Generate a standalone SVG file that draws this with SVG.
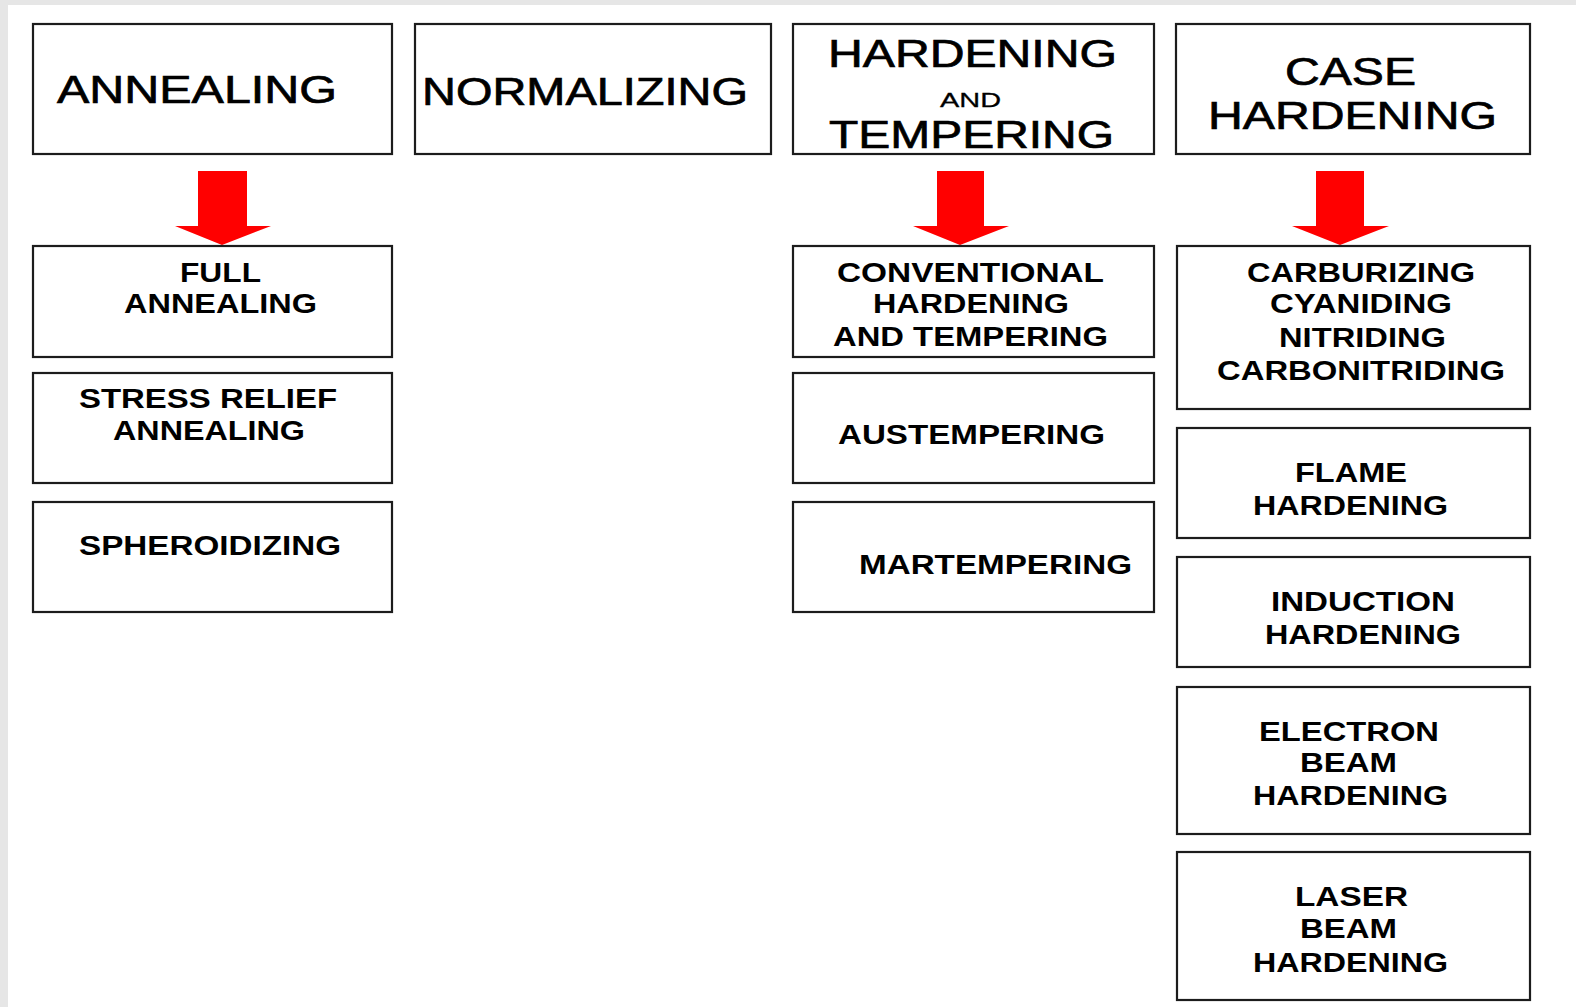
<svg xmlns="http://www.w3.org/2000/svg" width="1576" height="1007" viewBox="0 0 1576 1007">
<style>
.box{fill:#ffffff;stroke:#1c1c1c;stroke-width:2.2}
.t{font-family:"Liberation Sans",Arial,sans-serif;fill:#000;stroke:#000;stroke-width:0.7;font-size:39px;font-weight:normal}
.s{font-family:"Liberation Sans",Arial,sans-serif;fill:#000;font-size:27px;font-weight:bold}
.a{font-family:"Liberation Sans",Arial,sans-serif;fill:#000;stroke:#000;stroke-width:0.3;font-size:21px}
.arrow{fill:#ff0000}
</style>
<rect x="0" y="0" width="1576" height="1007" fill="#e6e6e6"/>
<rect x="8" y="5" width="1568" height="1002" fill="#ffffff"/>

<g id="connectors">
<path class="arrow" d="M198,171 H247 V226 H271 L222,245 L175,226 H198 Z"/>
<path class="arrow" d="M937,171 H984 V226 H1009 L960,245 L913,226 H937 Z"/>
<path class="arrow" d="M1316,171 H1364 V226 H1389 L1340,245 L1292,226 H1316 Z"/>
</g>

<g id="annealing">
<rect class="box" x="33" y="24" width="359" height="130"/>
<text class="t" x="57" y="103" textLength="280" lengthAdjust="spacingAndGlyphs">ANNEALING</text>
</g>
<g id="normalizing">
<rect class="box" x="415" y="24" width="356" height="130"/>
<text class="t" x="422" y="105" textLength="326" lengthAdjust="spacingAndGlyphs">NORMALIZING</text>
</g>
<g id="hardening-tempering">
<rect class="box" x="793" y="24" width="361" height="130"/>
<text class="t" x="828" y="67" textLength="289" lengthAdjust="spacingAndGlyphs">HARDENING</text>
<text class="a" x="940" y="107" textLength="61" lengthAdjust="spacingAndGlyphs">AND</text>
<text class="t" x="829" y="148" textLength="285" lengthAdjust="spacingAndGlyphs">TEMPERING</text>
</g>
<g id="case-hardening">
<rect class="box" x="1176" y="24" width="354" height="130"/>
<text class="t" x="1285" y="85" textLength="131" lengthAdjust="spacingAndGlyphs">CASE</text>
<text class="t" x="1208" y="129" textLength="289" lengthAdjust="spacingAndGlyphs">HARDENING</text>
</g>

<g id="full-annealing">
<rect class="box" x="33" y="246" width="359" height="111"/>
<text class="s" x="180" y="282" textLength="81" lengthAdjust="spacingAndGlyphs">FULL</text>
<text class="s" x="124" y="313" textLength="193" lengthAdjust="spacingAndGlyphs">ANNEALING</text>
</g>
<g id="stress-relief-annealing">
<rect class="box" x="33" y="373" width="359" height="110"/>
<text class="s" x="79" y="408" textLength="258" lengthAdjust="spacingAndGlyphs">STRESS RELIEF</text>
<text class="s" x="113" y="440" textLength="192" lengthAdjust="spacingAndGlyphs">ANNEALING</text>
</g>
<g id="spheroidizing">
<rect class="box" x="33" y="502" width="359" height="110"/>
<text class="s" x="79" y="555" textLength="262" lengthAdjust="spacingAndGlyphs">SPHEROIDIZING</text>
</g>

<g id="conventional">
<rect class="box" x="793" y="246" width="361" height="111"/>
<text class="s" x="837" y="282" textLength="267" lengthAdjust="spacingAndGlyphs">CONVENTIONAL</text>
<text class="s" x="873" y="313" textLength="196" lengthAdjust="spacingAndGlyphs">HARDENING</text>
<text class="s" x="833" y="346" textLength="275" lengthAdjust="spacingAndGlyphs">AND TEMPERING</text>
</g>
<g id="austempering">
<rect class="box" x="793" y="373" width="361" height="110"/>
<text class="s" x="838" y="444" textLength="267" lengthAdjust="spacingAndGlyphs">AUSTEMPERING</text>
</g>
<g id="martempering">
<rect class="box" x="793" y="502" width="361" height="110"/>
<text class="s" x="859" y="574" textLength="273" lengthAdjust="spacingAndGlyphs">MARTEMPERING</text>
</g>

<g id="carburizing">
<rect class="box" x="1177" y="246" width="353" height="163"/>
<text class="s" x="1247" y="282" textLength="228" lengthAdjust="spacingAndGlyphs">CARBURIZING</text>
<text class="s" x="1270" y="313" textLength="182" lengthAdjust="spacingAndGlyphs">CYANIDING</text>
<text class="s" x="1279" y="347" textLength="167" lengthAdjust="spacingAndGlyphs">NITRIDING</text>
<text class="s" x="1217" y="380" textLength="288" lengthAdjust="spacingAndGlyphs">CARBONITRIDING</text>
</g>
<g id="flame-hardening">
<rect class="box" x="1177" y="428" width="353" height="110"/>
<text class="s" x="1295" y="482" textLength="112" lengthAdjust="spacingAndGlyphs">FLAME</text>
<text class="s" x="1253" y="515" textLength="195" lengthAdjust="spacingAndGlyphs">HARDENING</text>
</g>
<g id="induction-hardening">
<rect class="box" x="1177" y="557" width="353" height="110"/>
<text class="s" x="1271" y="611" textLength="184" lengthAdjust="spacingAndGlyphs">INDUCTION</text>
<text class="s" x="1265" y="644" textLength="196" lengthAdjust="spacingAndGlyphs">HARDENING</text>
</g>
<g id="electron-beam-hardening">
<rect class="box" x="1177" y="687" width="353" height="147"/>
<text class="s" x="1259" y="741" textLength="180" lengthAdjust="spacingAndGlyphs">ELECTRON</text>
<text class="s" x="1300" y="772" textLength="97" lengthAdjust="spacingAndGlyphs">BEAM</text>
<text class="s" x="1253" y="805" textLength="195" lengthAdjust="spacingAndGlyphs">HARDENING</text>
</g>
<g id="laser-beam-hardening">
<rect class="box" x="1177" y="852" width="353" height="148"/>
<text class="s" x="1295" y="906" textLength="113" lengthAdjust="spacingAndGlyphs">LASER</text>
<text class="s" x="1300" y="938" textLength="97" lengthAdjust="spacingAndGlyphs">BEAM</text>
<text class="s" x="1253" y="972" textLength="195" lengthAdjust="spacingAndGlyphs">HARDENING</text>
</g>
</svg>
